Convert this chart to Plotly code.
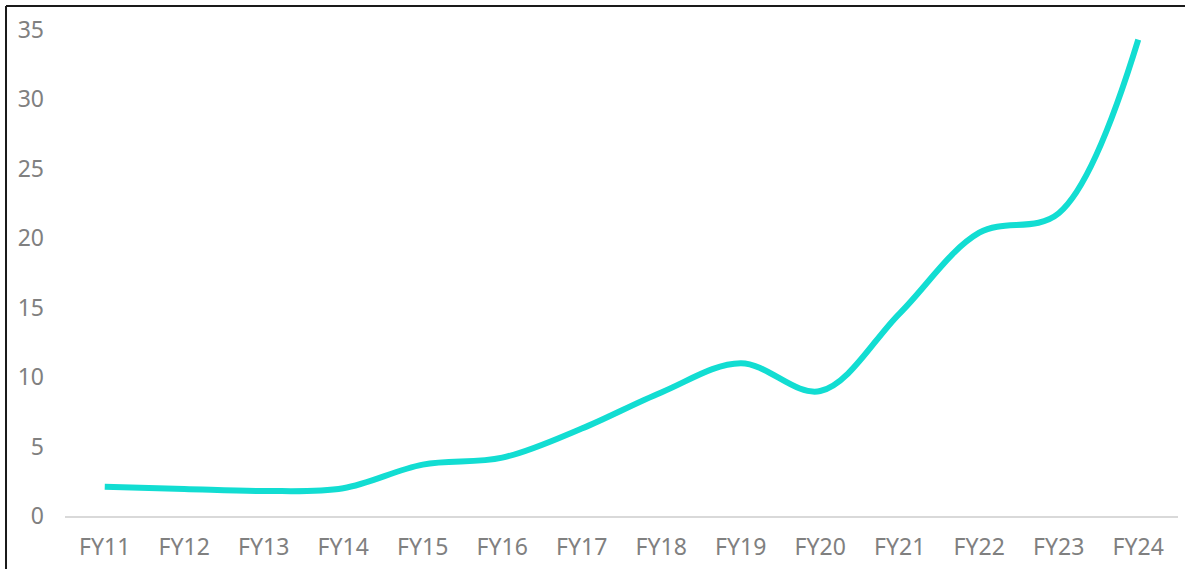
import plotly.graph_objects as go

# Fiscal years and values
years = ["FY11", "FY12", "FY13", "FY14", "FY15", "FY16", "FY17",
         "FY18", "FY19", "FY20", "FY21", "FY22", "FY23", "FY24"]
values = [2.1, 1.95, 1.8, 2.0, 3.7, 4.2, 6.3, 8.9, 11.0, 9.0, 14.6, 20.4, 21.8, 34.3]
y_ticks = [0, 5, 10, 15, 20, 25, 30, 35]

LINE_COLOR = "#12DDD2"
TEXT_COLOR = "#808080"
FONT = "Noto Sans, Tahoma, DejaVu Sans, sans-serif"

fig = go.Figure(
    go.Scatter(
        x=years,
        y=values,
        mode="lines",
        line=dict(color=LINE_COLOR, width=6, shape="spline", smoothing=1.0),
        hoverinfo="x+y",
    )
)

fig.update_layout(
    width=1185,
    height=569,
    margin=dict(l=65, r=7, t=30, b=53),
    paper_bgcolor="white",
    plot_bgcolor="white",
    showlegend=False,
    font=dict(family=FONT, size=23, color=TEXT_COLOR),
    xaxis=dict(
        type="category",
        range=[-0.5, len(years) - 0.5],
        showgrid=False,
        zeroline=False,
        showline=True,
        linecolor="#D9D9D9",
        linewidth=2,
        ticks="",
        ticklabelstandoff=9,
        automargin=False,
        tickfont=dict(family=FONT, size=23, color=TEXT_COLOR),
        fixedrange=True,
    ),
    yaxis=dict(
        range=[0, 35],
        tickvals=y_ticks,
        showgrid=False,
        zeroline=False,
        showline=False,
        ticks="",
        ticklabelstandoff=20,
        automargin=False,
        tickfont=dict(family=FONT, size=23, color=TEXT_COLOR),
        fixedrange=True,
    ),
    shapes=[
        # frame around the chart area (top and left edges visible)
        dict(type="line", xref="paper", yref="paper",
             x0=-0.0530, x1=1.1, y0=1.0494, y1=1.0494,
             line=dict(color="#1A1A1A", width=2)),
        dict(type="line", xref="paper", yref="paper",
             x0=-0.0530, x1=-0.0530, y0=-0.2, y1=1.0494,
             line=dict(color="#1A1A1A", width=2)),
    ],
)

fig.write_html("out.html")
